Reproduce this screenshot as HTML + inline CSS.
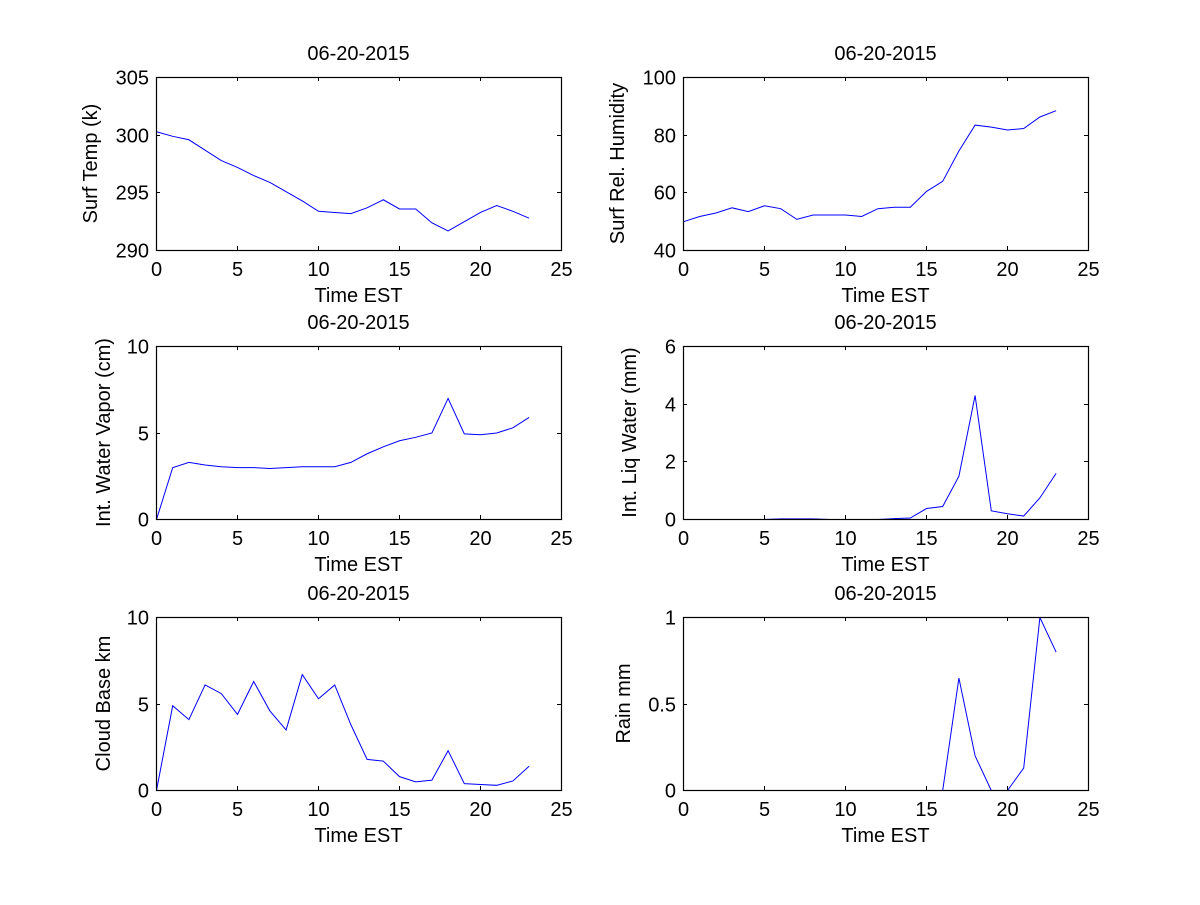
<!DOCTYPE html>
<html><head><meta charset="utf-8"><style>
html,body{margin:0;padding:0;background:#fff;}
svg text{font-family:"Liberation Sans",Arial,sans-serif;font-size:20px;fill:#000;}
</style></head>
<body>
<svg id="fig" width="1200" height="900" xmlns="http://www.w3.org/2000/svg">
<rect width="1200" height="900" fill="#fff"/>
</svg>
<script>
const hours = [0,1,2,3,4,5,6,7,8,9,10,11,12,13,14,15,16,17,18,19,20,21,22,23];
const xTicks = [0,5,10,15,20,25];
const surfTemp = [300.3,299.9,299.6,298.7,297.8,297.2,296.5,295.9,295.1,294.3,293.4,293.3,293.2,293.7,294.4,293.6,293.6,292.4,291.7,292.5,293.3,293.9,293.4,292.8];
const relHum = [50,51.8,53,54.8,53.5,55.5,54.5,50.8,52.3,52.3,52.3,51.8,54.5,55,55,60.5,64,74.5,83.5,82.8,81.8,82.3,86.3,88.5];
const waterVapor = [0,3.0,3.3,3.15,3.05,3.0,3.0,2.95,3.0,3.05,3.05,3.05,3.3,3.8,4.2,4.55,4.75,5.0,7.0,4.95,4.9,5.0,5.3,5.9];
const liqWater = [0,0,0,0,0,0,0.02,0.02,0.02,0,0,0,0,0.03,0.05,0.38,0.45,1.5,4.3,0.3,0.2,0.12,0.75,1.6];
const cloudBase = [0,4.9,4.1,6.1,5.6,4.4,6.3,4.6,3.5,6.7,5.3,6.1,3.8,1.8,1.7,0.8,0.5,0.6,2.3,0.4,0.35,0.3,0.55,1.4];
const rain = [0,0,0,0,0,0,0,0,0,0,0,0,0,0,0,0,0,0.65,0.2,0,0,0.13,1.0,0.8];

const panels = [
 {name:'surf-temp', x:156,y:77, ymin:290,ymax:305, yticks:[290,295,300,305], ylabel:'Surf Temp (k)', ylx:97, data:surfTemp},
 {name:'rel-humidity', x:683,y:77, ymin:40,ymax:100, yticks:[40,60,80,100], ylabel:'Surf Rel. Humidity', ylx:624, data:relHum},
 {name:'water-vapor', x:156,y:346, ymin:0,ymax:10, yticks:[0,5,10], ylabel:'Int. Water Vapor (cm)', ylx:110, data:waterVapor},
 {name:'liq-water', x:683,y:346, ymin:0,ymax:6, yticks:[0,2,4,6], ylabel:'Int. Liq Water (mm)', ylx:636, data:liqWater},
 {name:'cloud-base', x:156,y:617, ymin:0,ymax:10, yticks:[0,5,10], ylabel:'Cloud Base km', ylx:110, data:cloudBase},
 {name:'rain', x:683,y:617, ymin:0,ymax:1, yticks:[0,0.5,1], ylabel:'Rain mm', ylx:630, data:rain}
];
const W=405,H=173,NS='http://www.w3.org/2000/svg';
const svg=document.getElementById('fig');
function mk(tag,attrs,parent){const e=document.createElementNS(NS,tag);for(const k in attrs)e.setAttribute(k,attrs[k]);(parent||svg).appendChild(e);return e;}
panels.forEach((p,pi)=>{
 const g=mk('g',{});
 
 
 const sx=v=>p.x+v/25*W;
 const sy=v=>p.y+H-(v-p.ymin)/(p.ymax-p.ymin)*H;
 const cid='clip'+pi;
 const cp=mk('clipPath',{id:cid},g); mk('rect',{x:p.x,y:p.y,width:W,height:H+1},cp);
 mk('rect',{x:p.x,y:p.y,width:W,height:H,fill:'#fff'},g);
 const line=mk('polyline',{points:hours.map((h,i)=>(sx(h)+0.5)+','+(sy(p.data[i])+0.5)).join(' '),fill:'none',stroke:'#0000ff','stroke-width':1,'clip-path':'url(#'+cid+')'},g);
 
 
 const box=mk('rect',{x:p.x+0.5,y:p.y+0.5,width:W,height:H,fill:'none',stroke:'#000','stroke-width':1.2},g);
 
 
 xTicks.forEach(t=>{const X=Math.round(sx(t))+0.5;
  mk('line',{x1:X,x2:X,y1:p.y+H,y2:p.y+H-4,stroke:'#000'},g);
  mk('line',{x1:X,x2:X,y1:p.y,y2:p.y+4,stroke:'#000'},g);
  const tl=mk('text',{x:X,y:p.y+H+26,'text-anchor':'middle'},g);tl.textContent=t;
  
  
 });
 p.yticks.forEach(t=>{const Y=Math.round(sy(t))+0.5;
  mk('line',{x1:p.x,x2:p.x+4,y1:Y,y2:Y,stroke:'#000'},g);
  mk('line',{x1:p.x+W,x2:p.x+W-4,y1:Y,y2:Y,stroke:'#000'},g);
  const tl=mk('text',{x:p.x-7,y:Y+7,'text-anchor':'end'},g);tl.textContent=t;
  
  
 });
 const xl=mk('text',{x:p.x+W/2,y:p.y+H+52,'text-anchor':'middle'},g);xl.textContent='Time EST';
 
 
 const ti=mk('text',{x:p.x+W/2,y:p.y-17,'text-anchor':'middle'},g);ti.textContent='06-20-2015';
 
 
 const cy=p.y+H/2;
 const yl=mk('text',{x:p.ylx,y:cy,'text-anchor':'middle',transform:'rotate(-90 '+p.ylx+' '+cy+')'},g);yl.textContent=p.ylabel;
 
 
});
</script>
</body></html>
